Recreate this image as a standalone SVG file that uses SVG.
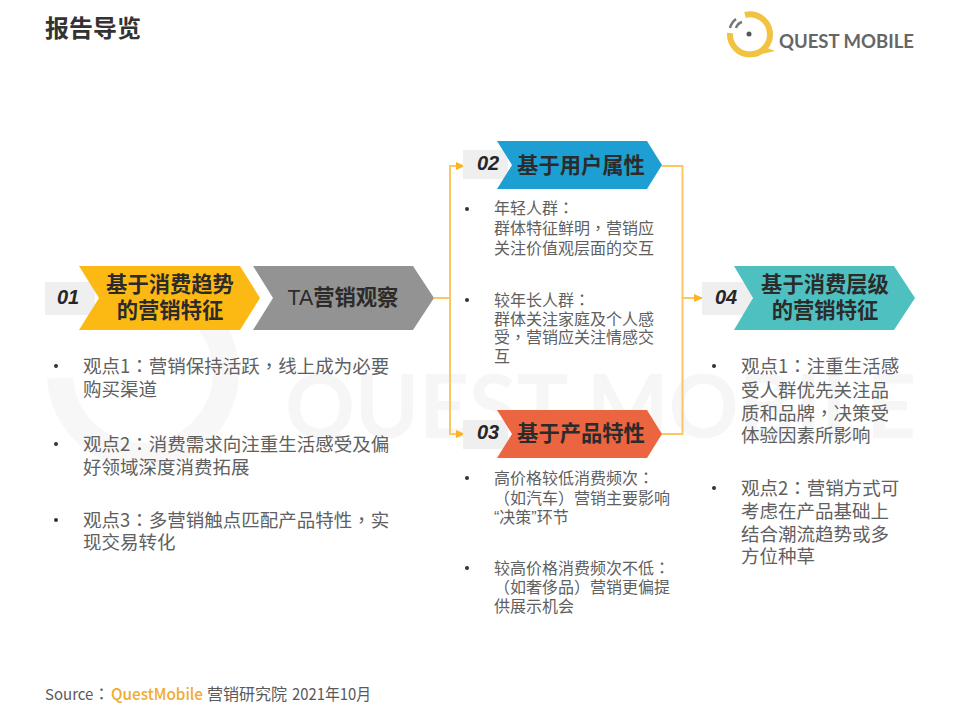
<svg xmlns="http://www.w3.org/2000/svg" width="959" height="719" viewBox="0 0 959 719">
<defs>
<style>
text{font-family:"Noto Sans CJK SC","Noto Sans",sans-serif}
.b{font-size:18.5px;fill:#606060}
.m{font-size:16px;fill:#606060}
.h{font-size:21.300px;font-weight:700;fill:#2b2b2b;text-anchor:middle}
.n{font-family:"Liberation Sans",Arial,sans-serif;font-size:20px;font-weight:700;font-style:italic;fill:#262626;text-anchor:middle}
.d{fill:#333}
.p{font-family:"Noto Sans CJK TC",sans-serif}
.l{font-family:"Liberation Sans",sans-serif}
.t{fill:#efefef}
.c{fill:none;stroke:#fbc765;stroke-width:2}
</style>
<marker id="a" markerWidth="9" markerHeight="8" refX="8" refY="4" orient="auto" markerUnits="userSpaceOnUse"><path d="M0 0L9 4L0 8z" fill="#fbb321"/></marker>
</defs>
<rect width="959" height="719" fill="#fff"/>
<g id="watermark">
<path d="M135 290A83 83 0 1 1 60 378" fill="none" stroke="#f7f7f7" stroke-width="26"/>
<text x="285" y="438" font-size="88" font-weight="700" fill="#f6f6f6" textLength="631" lengthAdjust="spacingAndGlyphs" style="font-family:Lato,sans-serif">QUEST MOBILE</text>
</g>
<g id="title"><text x="45" y="37" font-size="24" font-weight="700" fill="#333">报告导览</text></g>
<g id="logo">
<path d="M745 15A20 20 0 1 1 730 33" fill="none" stroke="#f2c340" stroke-width="6"/>
<path d="M762 46L775 51L762 54Z" fill="#f2c340"/>
<circle cx="749" cy="34" r="2.500" fill="#555"/>
<path d="M730 28A16 16 0 0 1 736 19M736 28A9 9 0 0 1 742 22" fill="none" stroke="#777" stroke-width="2.500"/>
<text x="779" y="48" font-size="19.500" font-weight="700" fill="#666" textLength="135" lengthAdjust="spacingAndGlyphs" style="font-family:Lato,sans-serif">QUEST MOBILE</text>
</g>
<g id="connectors">
<path class="c" d="M434 298H450"/>
<path class="c" d="M450 434V166H464" marker-end="url(#a)"/>
<path class="c" d="M450 298V434H464" marker-end="url(#a)"/>
<path class="c" d="M662 166H682.500V434H662"/>
<path class="c" d="M682.500 298H702" marker-end="url(#a)"/>
</g>
<g id="node01">
<rect class="t" x="45" y="282" width="50" height="33"/>
<path fill="#fdb913" d="M79 266H240L260 298L240 330H79L99 298Z"/>
<text class="n" x="68" y="304">01</text>
<text class="h" x="170" y="292">基于消费趋势</text>
<text class="h" x="170" y="318">的营销特征</text>
</g>
<g id="nodeTA">
<path fill="#939393" d="M253 266H413L434 298L413 330H253L273 298Z"/>
<text class="h" x="343" y="305"><tspan class="l" font-weight="400">TA</tspan>营销观察</text>
</g>
<g id="text01">
<circle class="d" cx="56" cy="366" r="2"/>
<text class="b" x="83" y="373">观点1<tspan class="p">&#xFF1A;</tspan>营销保持活跃<tspan class="p">&#xFF0C;</tspan>线上成为必要</text>
<text class="b" x="83" y="396">购买渠道</text>
<circle class="d" cx="56" cy="444" r="2"/>
<text class="b" x="83" y="451">观点2<tspan class="p">&#xFF1A;</tspan>消费需求向注重生活感受及偏</text>
<text class="b" x="83" y="474">好领域深度消费拓展</text>
<circle class="d" cx="56" cy="520" r="2"/>
<text class="b" x="83" y="527">观点3<tspan class="p">&#xFF1A;</tspan>多营销触点匹配产品特性<tspan class="p">&#xFF0C;</tspan>实</text>
<text class="b" x="83" y="549">现交易转化</text>
</g>
<g id="node02">
<rect class="t" x="463" y="150" width="45" height="29"/>
<path fill="#1e9fd3" d="M497 141H647L662 165L647 189H497L512 165Z"/>
<text class="n" x="488" y="170">02</text>
<text class="h" x="581" y="173">基于用户属性</text>
</g>
<g id="text02">
<circle class="d" cx="467" cy="209" r="2"/>
<text class="m" x="494" y="214">年轻人群<tspan class="p">&#xFF1A;</tspan></text>
<text class="m" x="494" y="234">群体特征鲜明<tspan class="p">&#xFF0C;</tspan>营销应</text>
<text class="m" x="494" y="254">关注价值观层面的交互</text>
<circle class="d" cx="467" cy="300" r="2"/>
<text class="m" x="494" y="306">较年长人群<tspan class="p">&#xFF1A;</tspan></text>
<text class="m" x="494" y="325">群体关注家庭及个人感</text>
<text class="m" x="494" y="343">受<tspan class="p">&#xFF0C;</tspan>营销应关注情感交</text>
<text class="m" x="494" y="362">互</text>
</g>
<g id="node03">
<rect class="t" x="463" y="420" width="45" height="29"/>
<path fill="#eb6540" d="M497 410H647L662 434L647 458H497L512 434Z"/>
<text class="n" x="488" y="439">03</text>
<text class="h" x="581" y="441">基于产品特性</text>
</g>
<g id="text03">
<circle class="d" cx="467" cy="478" r="2"/>
<text class="m" x="494" y="484">高价格较低消费频次<tspan class="p">&#xFF1A;</tspan></text>
<text class="m" x="494" y="504"><tspan class="p">&#xFF08;</tspan>如汽车<tspan class="p">&#xFF09;</tspan>营销主要影响</text>
<text class="m" x="494" y="523"><tspan class="l">&#x201C;</tspan>决策<tspan class="l">&#x201D;</tspan>环节</text>
<circle class="d" cx="467" cy="568" r="2"/>
<text class="m" x="494" y="574">较高价格消费频次不低<tspan class="p">&#xFF1A;</tspan></text>
<text class="m" x="494" y="593"><tspan class="p">&#xFF08;</tspan>如奢侈品<tspan class="p">&#xFF09;</tspan>营销更偏提</text>
<text class="m" x="494" y="612">供展示机会</text>
</g>
<g id="node04">
<rect class="t" x="702" y="282" width="50" height="33"/>
<path fill="#4fc0c0" d="M734 266H894L915 298L894 330H734L753 298Z"/>
<text class="n" x="726" y="304">04</text>
<text class="h" x="825" y="292">基于消费层级</text>
<text class="h" x="825" y="318">的营销特征</text>
</g>
<g id="text04">
<circle class="d" cx="714" cy="366" r="2"/>
<text class="b" x="741" y="373">观点1<tspan class="p">&#xFF1A;</tspan>注重生活感</text>
<text class="b" x="741" y="397">受人群优先关注品</text>
<text class="b" x="741" y="420">质和品牌<tspan class="p">&#xFF0C;</tspan>决策受</text>
<text class="b" x="741" y="442">体验因素所影响</text>
<circle class="d" cx="714" cy="488" r="2"/>
<text class="b" x="741" y="495">观点2<tspan class="p">&#xFF1A;</tspan>营销方式可</text>
<text class="b" x="741" y="518">考虑在产品基础上</text>
<text class="b" x="741" y="541">结合潮流趋势或多</text>
<text class="b" x="741" y="563">方位种草</text>
</g>
<g id="source">
<text x="45" y="700" font-size="15" fill="#595959">Source<tspan class="p" font-size="16">&#xFF1A;</tspan></text>
<text x="111" y="700" font-size="16" font-weight="500" fill="#f0ab2e" textLength="92" lengthAdjust="spacingAndGlyphs">QuestMobile</text>
<text x="207" y="700" font-size="16" fill="#595959">营销研究院</text>
<text x="292" y="700" font-size="16" fill="#595959" textLength="79" lengthAdjust="spacingAndGlyphs">2021年10月</text>
</g>
</svg>
